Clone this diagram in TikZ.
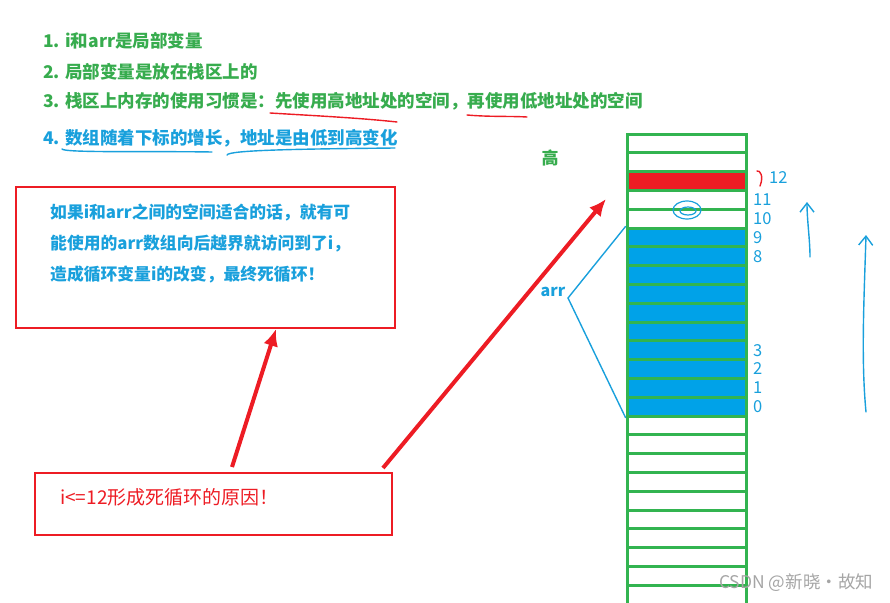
\documentclass[tikz,border=0pt]{standalone}
\usepackage{fontspec}
\setmainfont{Noto Sans CJK SC}
\usetikzlibrary{arrows.meta}

\definecolor{notegreen}{RGB}{55,172,78}
\definecolor{stackgreen}{RGB}{50,180,80}
\definecolor{noteblue}{RGB}{25,160,220}
\definecolor{arrblue}{RGB}{0,162,232}
\definecolor{ired}{RGB}{237,28,36}
\definecolor{markgray}{RGB}{165,165,165}

\begin{document}
\begin{tikzpicture}[x=1pt,y=-1pt,
  note/.style={anchor=west, inner sep=0, text=notegreen,
    font=\fontsize{17.5}{20}\selectfont\bfseries},
  cell/.style={draw=stackgreen, line width=3pt, minimum width=119pt,
    minimum height=18.8pt, inner sep=0},
  redbox/.style={draw=ired, line width=2pt, inner sep=0},
  idx/.style={anchor=west, inner sep=0, text=noteblue,
    font=\fontsize{16.5}{18}\selectfont},
  pen/.style={line width=1.4pt, line cap=round},
  bigarrow/.style={ired, line width=4pt,
    -{Latex[length=17pt,width=15pt]}},
  handarrow/.style={noteblue, pen, -{Straight Barb[length=9pt,width=14pt]}}]
\useasboundingbox (0,0) rectangle (890,602);
\clip (0,0) rectangle (890,602);

% Notes at the top
\node[note] (n1) at (43,41) {1. i和arr是局部变量};
\node[note] (n2) at (43,72) {2. 局部变量是放在栈区上的};
\node[note] (n3) at (43,101) {3. 栈区上内存的使用习惯是：先使用高地址处的空间，再使用低地址处的空间};
\node[note, text=noteblue] (n4) at (43,138) {4. 数组随着下标的增长，地址是由低到高变化};

% Hand-drawn underlines
\draw[ired, pen] (270,113) .. controls (320,116) and (360,118) .. (397,122);
\draw[ired, pen] (467,115) .. controls (490,117) and (510,116) .. (527,117);
\draw[noteblue, pen] (62,149) .. controls (64,153) and (150,151) .. (212,152);
\draw[noteblue, pen] (227,155) .. controls (229,150) and (300,149) .. (395,148);

% Explanation box
\node[redbox, minimum width=379pt, minimum height=141pt] (why) at (205.5,257.5) {};
\node[anchor=west, inner sep=0, text=noteblue, align=left,
  font=\fontsize{16.8}{31}\selectfont\bfseries] (whytext) at (50,243)
  {如果i和arr之间的空间适合的话，就有可\\能使用的arr数组向后越界就访问到了i，\\造成循环变量i的改变，最终死循环！};

% Cause box
\node[redbox, minimum width=357pt, minimum height=62pt] (cause) at (213.5,504) {};
\node[anchor=west, inner sep=0, text=ired,
  font=\fontsize{19}{22}\selectfont] (causetext) at (60,497) {i<=12形成死循环的原因！};

% Stack column: fills first, then the cell borders
\fill[ired] (627,{134+18.8*2}) rectangle (746,{134+18.8*3});
\fill[arrblue] (627,{134+18.8*5}) rectangle (746,{134+18.8*15});
\foreach \k in {0,...,24}
  \node[cell] (c\k) at (686.5,{134+18.8*(\k+0.5)}) {};
\node[text=notegreen, font=\fontsize{17}{20}\selectfont\bfseries] (high) at (550,158) {高};

% i circled in its cell
\draw[noteblue, line width=1.2pt] (687,210) ellipse (14 and 9);
\draw[noteblue, line width=1.2pt] (688,211) ellipse (8 and 4);

% Index labels
\foreach \k in {3,4,5,6,11,12,13,14}{
  \pgfmathtruncatemacro\idxnum{14-\k}
  \node[idx] (l\k) at (753,{134+18.8*(\k+0.5)}) {\idxnum};
}
\node[idx] (l2) at (769,178) {12};
\draw[ired, pen] (757,171) .. controls (760,170) and (764,176) .. (760,186);

% arr bracket
\node[text=noteblue, font=\fontsize{16}{18}\selectfont\bfseries] (arrlbl) at (553,292) {arr};
\coordinate (tip) at (568,298);
\draw[noteblue, pen] (c5.north west) -- (tip) -- (c14.south west);

% Direction arrows
\coordinate (up1s) at (810,257);
\coordinate (up1e) at (807,202);
\draw[handarrow] (up1s) .. controls (810,240) and (807,220) .. (up1e);
\coordinate (up2s) at (866,412);
\coordinate (up2e) at (866,235);
\draw[handarrow] (up2s) .. controls (861,360) and (864,300) .. (up2e);

% Red pointers
\coordinate (a1s) at (232,467);
\coordinate (a1e) at (276,329);
\draw[bigarrow] (a1s) -- (a1e);
\coordinate (a2s) at (383,468);
\coordinate (a2e) at (606,199);
\draw[bigarrow] (a2s) -- (a2e);

% Watermark
\node[anchor=west, inner sep=0, text=markgray,
  font=\fontsize{17.5}{18}\selectfont] (mark) at (719,583) {CSDN @新晓·故知};
\end{tikzpicture}
\end{document}
